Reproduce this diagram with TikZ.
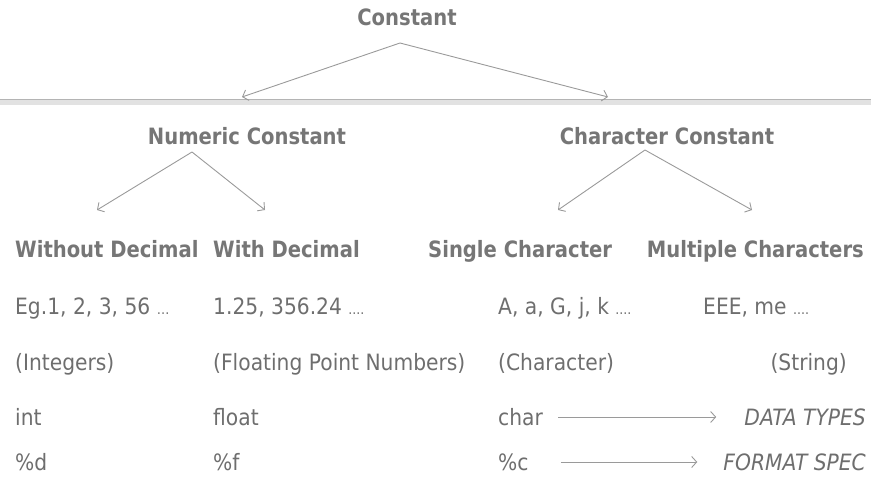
\documentclass[tikz,border=0pt]{standalone}
\usepackage{fontspec}
\setmainfont{DejaVu Sans}[FakeStretch=0.9, BoldFeatures={FakeStretch=0.87}]
\usepackage{xcolor}
\usepackage{tikz}
\usetikzlibrary{positioning,arrows.meta}

\definecolor{txtgray}{HTML}{6E6E6E}
\definecolor{headgray}{HTML}{767676}
\definecolor{arrowgray}{HTML}{9A9A9A}
\definecolor{rulegray}{HTML}{B4B4B4}
\definecolor{bandgray}{HTML}{E2E2E2}

% small dots for the trailing ellipses
\newcommand{\smalldots}[1]{{\fontsize{14}{14}\selectfont #1}}

\tikzset{
    head/.style={font=\fontsize{22.5}{26}\selectfont\bfseries, text=headgray, inner sep=0pt,
        text height=16pt, text depth=0pt},
    cell/.style={font=\fontsize{22.5}{26}\selectfont, text=txtgray, inner sep=0pt,
        text height=16pt, text depth=0pt, anchor=west},
    note/.style={cell, anchor=east, font=\fontsize{22.5}{26}\selectfont\itshape},
    link/.style={draw=arrowgray, line width=0.9pt, -{Straight Barb[length=5pt, width=11pt]}},
}

\begin{document}
\begin{tikzpicture}[x=1pt, y=-1pt, node distance=56pt]
    \useasboundingbox (0,0) rectangle (871,484);

    % top level and the rule under it
    \node[head] (const) at (407,18) {Constant};
    \fill[bandgray] (0,100) rectangle (871,105);
    \draw[rulegray, line width=0.8pt] (0,99.5) -- (871,99.5);

    \coordinate (tipL) at (242,97);
    \coordinate (tipR) at (608,97);
    \draw[link] ([shift={(-7pt,-25pt)}]const.center) -- (tipL);
    \draw[link] ([shift={(-7pt,-25pt)}]const.center) -- (tipR);

    % second level
    \node[head] (num) at (247,137) {Numeric Constant};
    \node[head] (chr) at (667,137) {Character Constant};

    \coordinate (numL) at (97,210);
    \coordinate (numR) at (265,210);
    \coordinate (chrL) at (558,210);
    \coordinate (chrR) at (752,210);
    \draw[link] ([shift={(-55pt,-15pt)}]num.center) -- (numL);
    \draw[link] ([shift={(-55pt,-15pt)}]num.center) -- (numR);
    \draw[link] ([shift={(-22pt,-13pt)}]chr.center) -- (chrL);
    \draw[link] ([shift={(-22pt,-13pt)}]chr.center) -- (chrR);

    % columns
    \node[cell, head, anchor=west] (wod) at (15,250) {Without Decimal};
    \node[cell, below=of wod.west, anchor=west] (wod_eg) {Eg.1, 2, 3, 56 \smalldots{\ldots}};
    \node[cell, below=of wod_eg.west, anchor=west] (wod_nm) {(Integers)};
    \node[cell, below=of wod_nm.west, anchor=west, yshift=1pt] (wod_ty) {int};
    \node[cell, below=45pt of wod_ty.west, anchor=west] (wod_fs) {\%d};

    \node[cell, head, anchor=west] (wd) at (213,250) {With Decimal};
    \node[cell, below=of wd.west, anchor=west] (wd_eg) {1.25, 356.24 \smalldots{....}};
    \node[cell, below=of wd_eg.west, anchor=west] (wd_nm) {(Floating Point Numbers)};
    \node[cell, below=of wd_nm.west, anchor=west, yshift=1pt] (wd_ty) {float};
    \node[cell, below=45pt of wd_ty.west, anchor=west] (wd_fs) {\%f};

    \node[cell, head, anchor=west] (sc) at (428,250) {Single Character};
    \node[cell] (sc_eg) at (498,306) {A, a, G, j, k \smalldots{....}};
    \node[cell, below=of sc_eg.west, anchor=west] (sc_nm) {(Character)};
    \node[cell, below=of sc_nm.west, anchor=west, yshift=1pt] (sc_ty) {char};
    \node[cell, below=45pt of sc_ty.west, anchor=west] (sc_fs) {\%c};

    \node[cell, head, anchor=east] (mc) at (864,250) {Multiple Characters};
    \node[cell] (mc_eg) at (703,306) {EEE, me \smalldots{....}};
    \node[cell, anchor=east] (mc_nm) at (847,362) {(String)};
    \node[note] (dtypes) at (866,417) {DATA TYPES};
    \node[note] (fspec) at (866,462) {FORMAT SPEC};

    \draw[link, shorten <=15pt, shorten >=28pt] (sc_ty.east) -- (dtypes.west);
    \draw[link, shorten <=32pt, shorten >=26pt] (sc_fs.east) -- (fspec.west);
\end{tikzpicture}
\end{document}
